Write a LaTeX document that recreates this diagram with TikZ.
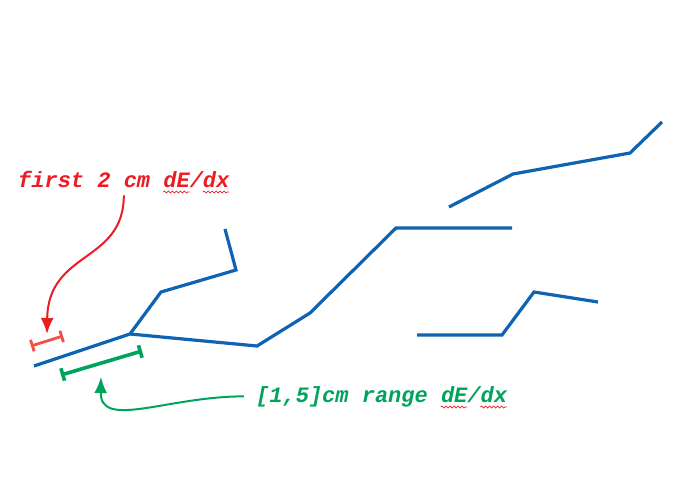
\documentclass[tikz,border=0pt]{standalone}
\usepackage{fontspec}
\setmonofont{Liberation Mono}
\usetikzlibrary{arrows.meta,decorations.pathmorphing}
\definecolor{curveblue}{RGB}{14,99,178}
\definecolor{notered}{RGB}{237,28,36}
\definecolor{barred}{RGB}{240,80,72}
\definecolor{notegreen}{RGB}{0,163,92}

\begin{document}
\begin{tikzpicture}[x=1pt,y=-1pt]
              \tikzstyle{curve} = [draw=curveblue, line width=3.2pt, line join=miter]
              \tikzstyle{note} = [font=\fontsize{22}{24}\selectfont\ttfamily\bfseries\itshape, inner sep=0pt, anchor=base west]
              \tikzstyle{squiggle} = [draw=notered, line width=0.7pt, decorate, decoration={snake, segment length=4pt, amplitude=1pt}]
              \useasboundingbox (0,0) rectangle (673,488);
              % blue tracks
              \draw[curve] (34,366) -- (130,334) -- (257,346) -- (310,313) -- (396,228) -- (512,228);
              \draw[curve] (130,334) -- (161,292) -- (236,270) -- (225,229);
              \draw[curve] (449,207) -- (513,174) -- (630,153) -- (662,122);
              \draw[curve] (417,335) -- (502,335) -- (534,292) -- (598,302);
              % fit ranges
              \coordinate (r1) at (31,346);
              \coordinate (r2) at (63,336);
              \coordinate (g1) at (61,375);
              \coordinate (g2) at (142,351);
              \draw[barred, line width=2.8pt, {Bar[width=12pt]}-{Bar[width=12pt]}] (r1) -- (r2);
              \draw[notegreen, line width=3.6pt, {Bar[width=13pt]}-{Bar[width=13pt]}] (g1) -- (g2);
              % labels
              \node (first) [note, text=notered] at (18,187) {first 2 cm dE/dx};
              \node (range) [note, text=notegreen] at (256,402) {[1,5]cm range dE/dx};
              \foreach \n/\c in {first/11, first/14, range/14, range/17}
                \draw[squiggle] ([xshift=\c*13.2pt, yshift=-5pt]\n.base west) -- ++(26.4pt,0);
              \coordinate (ftip) at (47,334);
              \coordinate (rtip) at (101,377);
              \draw[notered, line width=2pt, -{Latex[length=16pt,width=13pt]}] ([yshift=-8pt]first.south) .. controls +(0,68) and (48,250) .. (ftip);
              \draw[notegreen, line width=2pt, -{Latex[length=16pt,width=13pt]}] ([xshift=-12pt]range.west) .. controls +(-77,0) and (100,430) .. (rtip);
            \end{tikzpicture}
\end{document}
